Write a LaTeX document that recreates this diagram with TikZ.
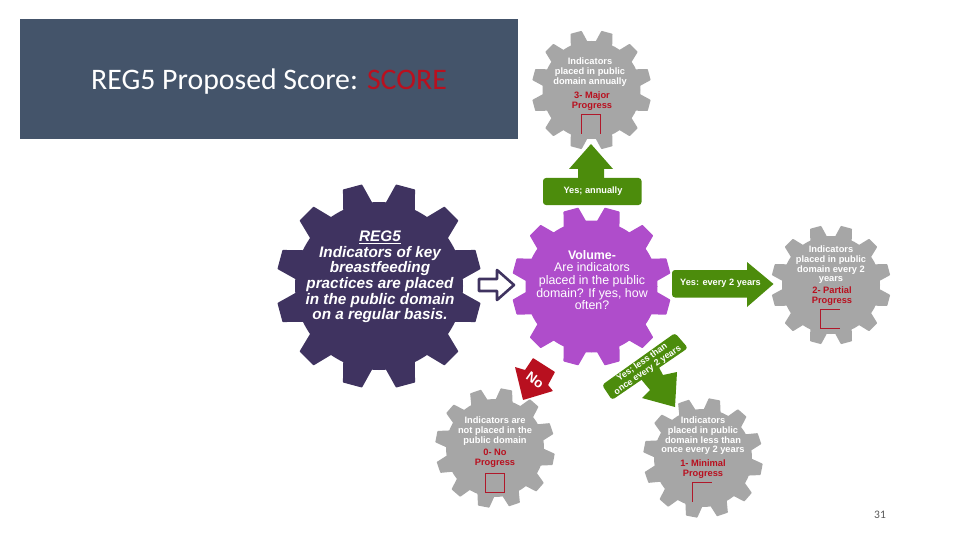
\documentclass[tikz,border=0pt]{standalone}
\usepackage{fontspec}
\setmainfont{Liberation Sans}
\newfontfamily\headfont{Carlito}
\definecolor{darkgear}{HTML}{3F3360}
\definecolor{purplegear}{HTML}{AF4DCB}
\definecolor{greygear}{HTML}{A6A6A6}
\definecolor{arrowgreen}{HTML}{4C8C0C}
\definecolor{scorered}{HTML}{B8101F}
\definecolor{headbg}{HTML}{44546A}
\definecolor{tickred}{HTML}{B0182A}
\tikzset{
  x=1pt,y=-1pt,
  gearlabel/.style={align=center,text=white,font=\fontsize{9.3}{9.7}\selectfont\bfseries,inner sep=0pt},
  gradelabel/.style={align=center,text=scorered,font=\fontsize{9.3}{10}\selectfont\bfseries,inner sep=0pt},
  tickbox/.style={minimum width=19pt,minimum height=19pt,inner sep=0pt},
  tickline/.style={draw=tickred,line width=.8pt},
  greenlabel/.style={text=white,font=\fontsize{9.2}{11}\selectfont\bfseries,inner sep=0pt,align=center},
}
% centre x, centre y, outer, root, colour, rotation
\newcommand{\gearshape}[6]{%
  \begin{scope}[shift={(#1,#2)},rotate=#6]
    \fill[#5] (0,0) circle[radius=#4];
    \foreach \a in {15,45,...,345}{
      \fill[#5,rounded corners=.6pt] (\a-10.5:#4-1) -- (\a-5.5:#3) -- (\a+5.5:#3) -- (\a+10.5:#4-1) -- cycle;
    }
  \end{scope}}
\begin{document}
\begin{tikzpicture}
\useasboundingbox (0,0) rectangle (960,540);
\fill[white] (0,0) rectangle (960,540);
% header
\fill[headbg] (20,19) rectangle (518,139);
\node[anchor=west,inner sep=0pt,text=white,font=\headfont\fontsize{29.8}{32}\selectfont] (title) at (91,81.5) {REG5 Proposed Score: \textcolor{scorered}{SCORE}};
% gears
\gearshape{379}{286}{103}{84}{darkgear}{0}
\gearshape{591.5}{286.5}{80}{66}{purplegear}{0}
\gearshape{591.5}{90}{60}{49}{greygear}{0}
\gearshape{831}{285}{60}{49}{greygear}{0}
\gearshape{495}{448}{60}{49}{greygear}{4}
\gearshape{703}{458}{60}{49}{greygear}{4}
% main gear text
\node[align=center,text=white,inner sep=0pt,font=\fontsize{15.3}{15.6}\selectfont\bfseries\itshape] (reg) at (380,277) {\underline{REG5}\\Indicators of key\\breastfeeding\\practices are placed\\in the public domain\\on a regular basis.};
% volume gear
\node[align=center,text=white,inner sep=0pt,font=\fontsize{12.4}{12.6}\selectfont] (vol) at (592,280) {\textbf{Volume-}\\Are indicators\\placed in the public\\domain? If yes, how\\often?};
% open arrow
\draw[darkgear,line width=2.6pt,line join=round,fill=white] (479,279) -- (497,279) -- (497,270) -- (514,285) -- (497,300) -- (497,291) -- (479,291) -- cycle;
% up arrow
\fill[arrowgreen] (591,144) -- (613,169) -- (604,169) -- (604,180) -- (578,180) -- (578,169) -- (569,169) -- cycle;
\fill[arrowgreen,rounded corners=3pt] (543,178) rectangle (641.5,205);
\node[greenlabel] (up) at (593,191.5) {Yes; annually};
% right arrow
\fill[arrowgreen,rounded corners=3pt] (672,270) rectangle (752,297.5);
\fill[arrowgreen] (747,262) -- (773.5,284) -- (747,307) -- cycle;
\node[greenlabel] (right) at (720.5,283.5) {Yes: every 2 years};
% diagonal arrow
\fill[arrowgreen,rounded corners=3pt] (602,385) -- (675,333) -- (688,348) -- (612,400) -- cycle;
\fill[arrowgreen] (655,360) -- (663,375) -- (677,372) -- (675,407) -- (642,398) -- (650,390) -- (640,378) -- cycle;
\node[greenlabel,rotate=35,font=\fontsize{8.9}{9.4}\selectfont\bfseries] (diag) at (645,366.5) {Yes; less than\\once every 2 years};
% no arrow
\fill[scorered,rounded corners=.5pt] (515,367) -- (525,370) -- (533,358) -- (555,372) -- (548,385) -- (553,391) -- (523,400) -- cycle;
\node[text=white,font=\fontsize{13.5}{14}\selectfont\bfseries,rotate=-36,inner sep=0pt] (no) at (535,380) {No};
% top gear
\node[gearlabel] (t1) at (590,72) {Indicators\\placed in public\\domain annually};
\node[gradelabel] (t2) at (592,101) {3- Major\\Progress};
\node[tickbox] (t3) at (591,124) {};
\draw[tickline] (t3.south west) -- (t3.north west) -- (t3.north east) -- (t3.south east);
% right gear
\node[gearlabel] (r1) at (831,265) {Indicators\\placed in public\\domain every 2\\years};
\node[gradelabel] (r2) at (832,296) {2- Partial\\Progress};
\node[tickbox] (r3) at (830,319) {};
\draw[tickline] (r3.north east) -- (r3.north west) -- (r3.south west) -- (r3.south east);
% no gear
\node[gearlabel] (n1) at (495,431) {Indicators are\\not placed in the\\public domain};
\node[gradelabel] (n2) at (495,458) {0- No\\Progress};
\node[tickbox] (n3) at (495,483) {};
\draw[tickline] (n3.north west) rectangle (n3.south east);
% minimal gear
\node[gearlabel] (m1) at (703,436) {Indicators\\placed in public\\domain less than\\once every 2 years};
\node[gradelabel] (m2) at (703,469) {1- Minimal\\Progress};
\node[tickbox] (m3) at (702,492) {};
\draw[tickline] (m3.south west) -- (m3.north west) -- (m3.north east);
% page number
\node[text=black!65,font=\headfont\fontsize{11.5}{12}\selectfont,inner sep=0pt] (page) at (880,515) {31};
\end{tikzpicture}
\end{document}
